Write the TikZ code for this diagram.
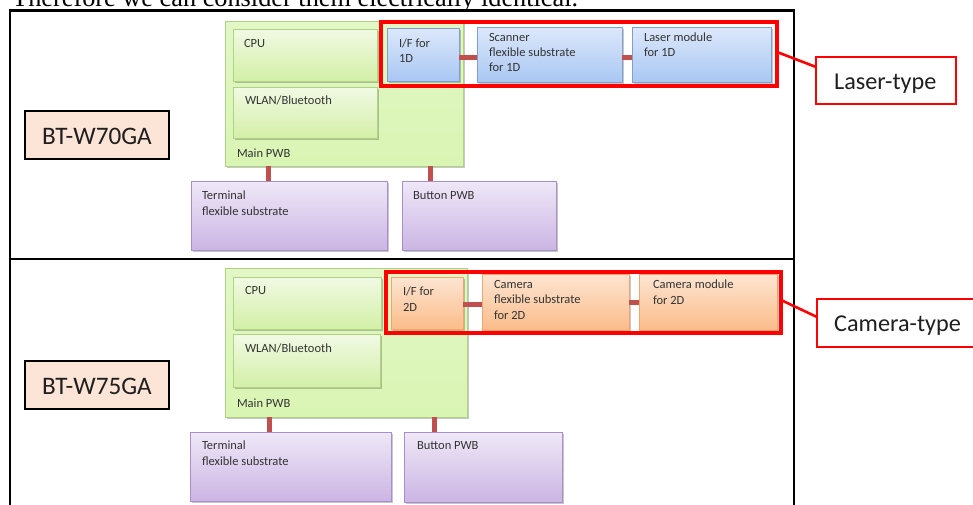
\documentclass[tikz,border=0pt]{standalone}
\usepackage{fontspec}
\setmainfont{Carlito}
\newfontfamily\titleserif{Liberation Serif}
\usetikzlibrary{fit,shadows}
\definecolor{grnD}{HTML}{AFD283}
\definecolor{grnT}{HTML}{F1FAE4}
\definecolor{grnBt}{HTML}{D3EFA7}
\definecolor{grnM}{HTML}{D9F5B3}
\definecolor{grnMT}{HTML}{E2F7C6}
\definecolor{bluD}{HTML}{7E9FD0}
\definecolor{bluT}{HTML}{DDE8FB}
\definecolor{bluB}{HTML}{A9C7F3}
\definecolor{orgD}{HTML}{EEA56E}
\definecolor{orgT}{HTML}{FDE5D2}
\definecolor{orgB}{HTML}{FBBC8A}
\definecolor{purD}{HTML}{A88FCC}
\definecolor{purT}{HTML}{EFE8F7}
\definecolor{purB}{HTML}{CBB5E4}
\definecolor{peach}{HTML}{FCE4D6}
\definecolor{conc}{HTML}{C0504D}
\definecolor{txtc}{HTML}{333333}
\definecolor{bigtxt}{HTML}{1F1F1F}
\begin{document}
\begin{tikzpicture}[x=1pt,y=-1pt,
  box/.style={inner sep=0pt, outer sep=0pt, line width=1pt},
  shd/.style={drop shadow={shadow xshift=1.5pt, shadow yshift=-1.5pt, opacity=.22, fill=black}},
  mainbox/.style={box, draw=grnD, top color=grnMT, bottom color=grnM, shd},
  grnbox/.style={box, draw=grnD, top color=grnT, bottom color=grnBt, shd},
  blubox/.style={box, draw=bluD, top color=bluT, bottom color=bluB, shd},
  orgbox/.style={box, draw=orgD, top color=orgT, bottom color=orgB, shd},
  purbox/.style={box, draw=purD, top color=purT, bottom color=purB, shd},
  modelbox/.style={box, draw=black, line width=2.2pt, fill=peach},
  hilite/.style={box, draw=red, line width=4.5pt},
  lblbox/.style={box, draw=red, line width=1.6pt, fill=white},
  frame/.style={box, draw=black, line width=2.4pt},
  conn/.style={draw=conc, line width=5pt},
  pointer/.style={draw=red, line width=2.6pt},
  txt/.style={anchor=base west, inner sep=0pt, outer sep=0pt, text=txtc, align=left,
    font=\fontsize{12.5}{15}\selectfont},
  txtw/.style={txt, font=\fontsize{12.5}{16}\selectfont},
  bigt/.style={anchor=base west, inner sep=0pt, text=bigtxt, font=\fontsize{25.2}{28}\selectfont},
]
\useasboundingbox (0,0) rectangle (973,504);
\begin{scope}
\clip (0,0) rectangle (973,504);
\node[anchor=base west, inner sep=0pt, font=\titleserif\fontsize{26.3}{30}\selectfont] (title) at (12,6) {Therefore we can consider them electrically identical.};

% frames
\node[frame, fit={(10,10.5) (794,259)}] (frameA) {};
\node[frame, fit={(10,259) (794,520)}] (frameB) {};

% ---------- upper panel ----------
\node[mainbox, fit={(225,21) (463,166)}] (mainA) {};
\node[grnbox, fit={(233,29) (377,81)}] (cpuA) {};
\node[grnbox, fit={(233,87) (377,138)}] (wlanA) {};
\draw[conn] ([xshift=43pt]mainA.south west) -- ([xshift=43pt]mainA.south west |- 0,183) coordinate (tcA);
\draw[conn] ([xshift=205pt]mainA.south west) -- ([xshift=205pt]mainA.south west |- 0,183) coordinate (bcA);
\node[purbox, fit={(191,181) (387,250)}] (termA) {};
\node[purbox, fit={(402,181) (556,250)}] (btnA) {};
\node[modelbox, fit={(25,111) (169,159)}] (bt70) {};
\node[blubox, fit={(387,28) (459,81)}] (ifA) {};
\node[blubox, fit={(477,27) (622,82)}] (scanA) {};
\node[blubox, fit={(632,27) (771,82)}] (laserA) {};
\draw[conn] ([yshift=-2.5pt]ifA.east) -- ([yshift=-2.5pt]ifA.east -| scanA.west);
\draw[conn] ([yshift=-2.5pt]scanA.east) -- ([yshift=-2.5pt]scanA.east -| laserA.west);
\node[hilite, fit={(381,22) (777,86)}] (hlA) {};
\node[lblbox, fit={(816,57) (956,104)}] (lblA) {};
\draw[pointer] ([yshift=2pt]hlA.east) -- ([yshift=13.5pt]lblA.west);

% texts: base anchor of a multi-line text is its last baseline
\node[txt] (tCpuA) at (244,47) {CPU};
\node[txt] (tWlanA) at (245,104) {WLAN/Bluetooth};
\node[txt] (tMainA) at (237,157) {Main PWB};
\node[txtw] (tTermA) at (202,215) {Terminal\\flexible substrate};
\node[txt] (tBtnA) at (413,199) {Button PWB};
\node[txt] (tIfA) at (399,62) {I/F for\\1D};
\node[txt] (tScanA) at (489,71) {Scanner\\flexible substrate\\for 1D};
\node[txt] (tLaserA) at (644,56) {Laser module\\for 1D};
\node[bigt] (tBt70) at (42,144) {BT-W70GA};
\node[bigt, font=\fontsize{24.2}{28}\selectfont] (tLblA) at (834,89) {Laser-type};

% ---------- lower panel ----------
\node[mainbox, fit={(225,268) (467,417)}] (mainB) {};
\node[grnbox, fit={(233,277) (381,329)}] (cpuB) {};
\node[grnbox, fit={(233,334) (380,387)}] (wlanB) {};
\draw[conn] ([xshift=44pt]mainB.south west) -- ([xshift=44pt]mainB.south west |- 0,434) coordinate (tcB);
\draw[conn] ([xshift=209pt]mainB.south west) -- ([xshift=209pt]mainB.south west |- 0,434) coordinate (bcB);
\node[purbox, fit={(190,432) (391,501)}] (termB) {};
\node[purbox, fit={(404,432) (562,502)}] (btnB) {};
\node[modelbox, fit={(25,361) (169,409)}] (bt75) {};
\node[orgbox, fit={(391,277) (463,329)}] (ifB) {};
\node[orgbox, fit={(482,274) (629,330)}] (camB) {};
\node[orgbox, fit={(639,274) (777,330)}] (cmodB) {};
\draw[conn] ([yshift=-1pt]ifB.east) -- ([yshift=-1pt]ifB.east -| camB.west);
\draw[conn] ([yshift=0pt]camB.east) -- ([yshift=0pt]camB.east -| cmodB.west);
\node[hilite, fit={(386,272) (781,333)}] (hlB) {};
\node[lblbox, fit={(817,299) (995,347)}] (lblB) {};
\draw[pointer] ([yshift=2.5pt]hlB.east) -- ([yshift=6pt]lblB.west);

\node[txt] (tCpuB) at (245,294) {CPU};
\node[txt] (tWlanB) at (245,352) {WLAN/Bluetooth};
\node[txt] (tMainB) at (237,407) {Main PWB};
\node[txtw] (tTermB) at (202,465) {Terminal\\flexible substrate};
\node[txt] (tBtnB) at (417,449) {Button PWB};
\node[txtw] (tIfB) at (403,311) {I/F for\\2D};
\node[txt, font=\fontsize{12.5}{15.5}\selectfont] (tCamB) at (494,319) {Camera\\flexible substrate\\for 2D};
\node[txtw] (tCmodB) at (653,304) {Camera module\\for 2D};
\node[bigt] (tBt75) at (42,394) {BT-W75GA};
\node[bigt, font=\fontsize{24.2}{28}\selectfont] (tLblB) at (834,331) {Camera-type};
\end{scope}
\end{tikzpicture}
\end{document}
